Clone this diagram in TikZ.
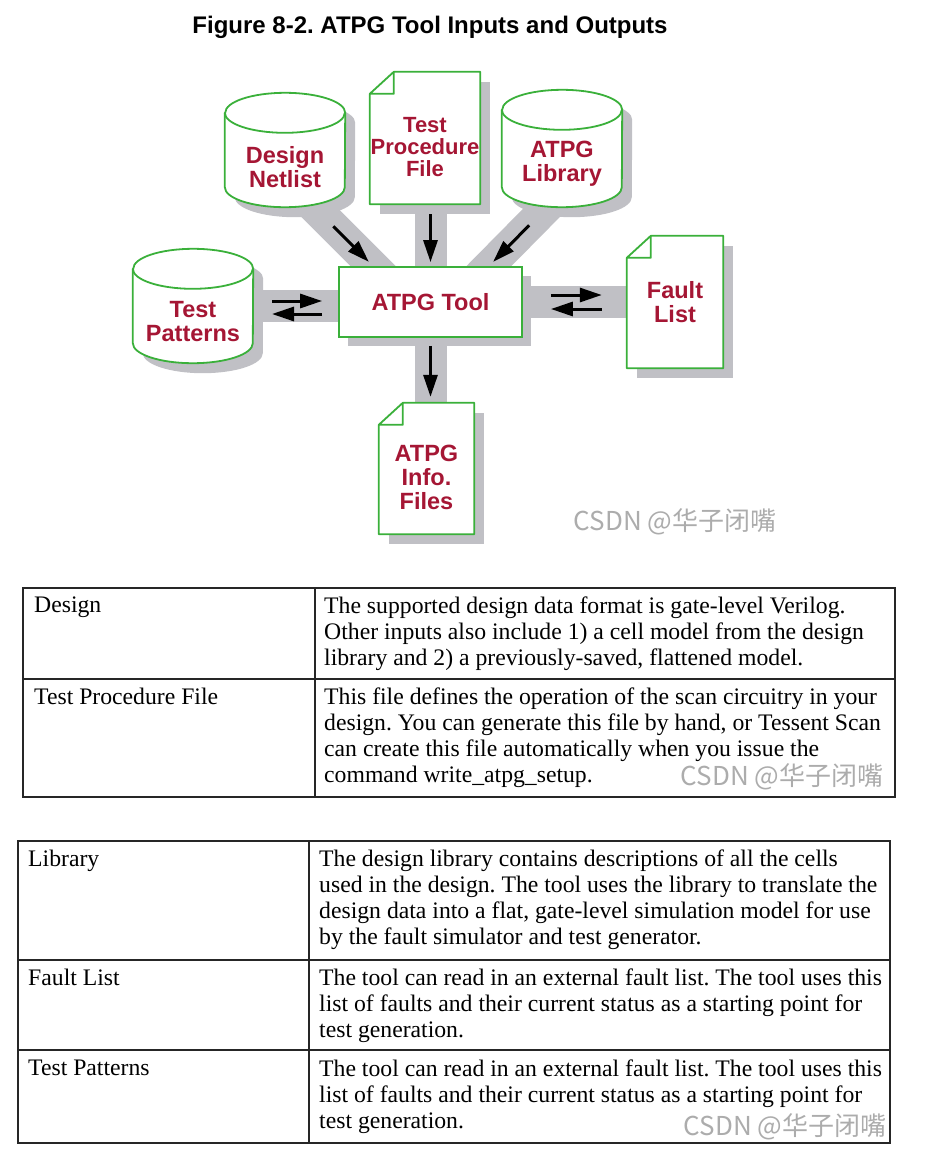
\documentclass[tikz,border=0pt]{standalone}
\usepackage{fontspec}
\setmainfont{Liberation Serif}
\newfontfamily\headfam{Liberation Sans}
\newfontfamily\markfam{Noto Sans CJK SC}
\usetikzlibrary{shadows,calc,arrows.meta}
\pgfdeclarelayer{bandlayer}
\pgfdeclarelayer{background}
\pgfsetlayers{bandlayer,background,main}
\definecolor{ATPGRed}{RGB}{165,22,52}
\definecolor{ATPGGreen}{RGB}{58,176,58}
\definecolor{ATPGGrey}{RGB}{192,192,197}
\definecolor{MarkGrey}{RGB}{172,172,172}
\newcommand\lift[1]{\rule{0pt}{#1pt}}
\frenchspacing

\begin{document}
\begin{tikzpicture}[
x=1pt,y=-1pt,
shadowed/.style={drop shadow={shadow xshift=10pt,shadow yshift=-10pt,fill=ATPGGrey,opacity=1}},
disk/.style={
    rectangle,
    minimum width=120pt,
    minimum height=114pt,
    inner sep=0pt,
    align=center,
    text=ATPGRed,
    font=\headfam\bfseries\fontsize{23.5}{24}\selectfont
},
docfile/.style={
    rectangle,
    fill=white,
    minimum height=132pt,
    inner sep=0pt,
    shadowed,
    align=center,
    text=ATPGRed,
    font=\headfam\bfseries\fontsize{23.5}{24}\selectfont
},
toolbox/.style={
    rectangle,
    draw=ATPGGreen,
    line width=1.8pt,
    fill=white,
    minimum width=183pt,
    minimum height=70pt,
    drop shadow={shadow xshift=9pt,shadow yshift=-9pt,fill=ATPGGrey,opacity=1},
    text=ATPGRed,
    font=\headfam\bfseries\fontsize{23.5}{24}\selectfont
},
outline/.style={draw=ATPGGreen,line width=1.8pt,line join=round},
band/.style={line width=32pt,draw=ATPGGrey},
flow/.style={-{Triangle[length=22pt,width=14pt]},line width=3pt,draw=black},
tabline/.style={line width=1.4pt,draw=black!85},
cell/.style={anchor=north west,inner sep=0pt,align=left,font=\fontsize{23.7}{26}\selectfont},
wmark/.style={text=MarkGrey,font=\markfam\fontsize{26}{26}\selectfont}
]
\useasboundingbox (0,0) rectangle (939,1157);

% diagram
\node[font=\headfam\bfseries\fontsize{24}{28}\selectfont] (title) at (430,27) {Figure 8-2. ATPG Tool Inputs and Outputs};
\node[toolbox] (tool) at (430.5,302) {ATPG Tool};
\node[disk] (dn) at (285,150) {\lift{51}Design\\Netlist};
\node[docfile,minimum width=110pt,font=\headfam\bfseries\fontsize{22}{22}\selectfont] (tpf) at (425,138) {\lift{34}Test\\Procedure\\File};
\node[disk,minimum height=117pt] (lib) at (562,148.5) {\lift{47}ATPG\\Library};
\node[disk] (tp) at (193,306) {\lift{47}Test\\Patterns};
\node[docfile,minimum width=96pt] (flt) at (675,302) {Fault\\List};
\node[docfile,minimum width=95pt,minimum height=131pt] (inf) at (426.5,468.5) {\lift{35}ATPG\\Info.\\Files};

% cylinders behind their text
\begin{pgfonlayer}{background}
\foreach \c in {dn,lib,tp} {
  \fill[ATPGGrey] ($(\c.north west)+(10,30)$) -- ($(\c.south west)+(10,-10)$)
    arc[start angle=180,end angle=0,x radius=60,y radius=20] -- ($(\c.north east)+(10,30)$)
    arc[start angle=0,end angle=-180,x radius=60,y radius=20] -- cycle;
  \filldraw[fill=white,outline] ($(\c.north west)+(0,20)$) -- ($(\c.south west)+(0,-20)$)
    arc[start angle=180,end angle=0,x radius=60,y radius=20] -- ($(\c.north east)+(0,20)$)
    arc[start angle=0,end angle=-180,x radius=60,y radius=20] -- cycle;
  \draw[outline] ($(\c.north west)+(0,20)$) arc[start angle=180,end angle=0,x radius=60,y radius=20];
}
\end{pgfonlayer}

\foreach \d in {tpf,flt,inf}
  \draw[outline] ($(\d.north west)+(24,0)$) -- (\d.north east) -- (\d.south east) -- (\d.south west) -- ($(\d.north west)+(0,22)$) -- cycle
    ($(\d.north west)+(24,0)$) |- ($(\d.north west)+(0,22)$);

\coordinate (dnout) at ($(dn.center)+(-28,0)$);
\coordinate (dnin) at ($(tool.north west)+(35,0)$);
\coordinate (libout) at ($(lib.center)+(43,0)$);
\coordinate (libin) at ($(tool.north east)+(-34,0)$);
\coordinate (lu) at ([yshift=5pt]tp.center);
\coordinate (ld) at ([yshift=-8pt]tp.center);
\coordinate (ru) at ([yshift=7pt]tool.east);
\coordinate (rd) at ([yshift=-7pt]tool.east);

\begin{pgfonlayer}{bandlayer}
\draw[band] (dnout) -- ($(dnout)!1.25!(dnin)$);
\draw[band] (libout) -- ($(libout)!1.25!(libin)$);
\draw[band] (tool |- tpf) -- (tool);
\draw[band] (tool) -- (tool |- inf);
\draw[band] (tp.center) -- (tp.center -| tool.center);
\draw[band] (tool) -- (tool -| flt);
\end{pgfonlayer}

\draw[flow,shorten <=108pt,shorten >=6pt] (dnout) -- (dnin);
\draw[flow,shorten <=108pt,shorten >=6pt] (libout) -- (libin);
\draw[flow,shorten <=10pt,shorten >=4pt] (tool |- tpf.south) -- (tool.north);
\draw[flow,shorten <=8pt,shorten >=6pt] (tool.south) -- (tool |- inf.north);
\draw[flow,shorten <=79pt,shorten >=16pt] (lu) -- (lu -| tool.west);
\draw[flow,shorten <=16pt,shorten >=79pt] (ld -| tool.west) -- (ld);
\draw[flow,shorten <=28pt,shorten >=25pt] (ru) -- (flt.west |- ru);
\draw[flow,shorten <=25pt,shorten >=28pt] (flt.west |- rd) -- (rd);

\node[wmark] (wm1) at (675,522) {CSDN @华子闭嘴};

% first table
\draw[tabline] (23,588) rectangle (895,797) (315,588) -- (315,797) (23,679) -- (895,679);
\node[cell] (designkey) at (34,597) {Design};
\node[cell] (designval) at (324,597) {The supported design data format is gate-level Verilog.\\Other inputs also include 1) a cell model from the design\\library and 2) a previously-saved, flattened model.};
\node[cell] (prockey) at (34,688) {Test Procedure File};
\node[cell] (procval) at (324,688) {This file defines the operation of the scan circuitry in your\\design. You can generate this file by hand, or Tessent Scan\\can create this file automatically when you issue the\\command write\_atpg\_setup.};
\node[wmark] (wm2) at (782,777) {CSDN @华子闭嘴};

% second table
\draw[tabline] (18,841) rectangle (890,1143) (309,841) -- (309,1143) (18,960) -- (890,960) (18,1050) -- (890,1050);
\node[cell] (libkey) at (28,850) {Library};
\node[cell] (libval) at (319,850) {The design library contains descriptions of all the cells\\used in the design. The tool uses the library to translate the\\design data into a flat, gate-level simulation model for use\\by the fault simulator and test generator.};
\node[cell] (faultkey) at (28,969) {Fault List};
\node[cell] (faultval) at (319,969) {The tool can read in an external fault list. The tool uses this\\list of faults and their current status as a starting point for\\test generation.};
\node[cell] (patkey) at (28,1060) {Test Patterns};
\node[cell] (patval) at (319,1060) {The tool can read in an external fault list. The tool uses this\\list of faults and their current status as a starting point for\\test generation.};
\node[wmark] (wm3) at (785,1127) {CSDN @华子闭嘴};

\end{tikzpicture}
\end{document}
